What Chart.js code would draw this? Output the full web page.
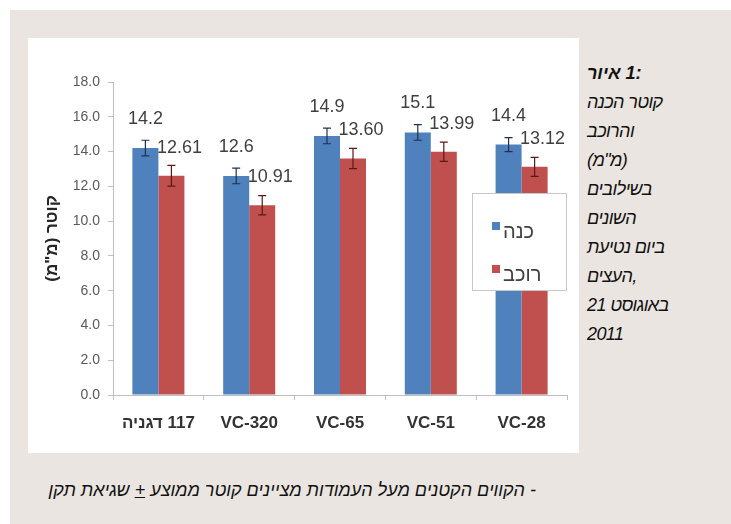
<!DOCTYPE html>
<html>
<head>
<meta charset="utf-8">
<script src="https://cdn.jsdelivr.net/npm/chart.js@4/dist/chart.umd.min.js"></script>
<style>
  html, body { margin: 0; padding: 0; background: #ffffff; }
  body { width: 731px; height: 524px; position: relative; overflow: hidden; font-family: "Liberation Sans", Arial, sans-serif; }
  #beige { position: absolute; left: 10px; top: 10px; width: 721px; height: 514px; background: #eae5e0; }
  #panel { position: absolute; left: 28px; top: 38px; width: 551px; height: 415px; background: #ffffff; }
  #side { position: absolute; left: 587px; top: 59px; width: 140px; font-style: italic; font-size: 18px; line-height: 29px; color: #111; direction: ltr; text-align: left; letter-spacing: -0.6px; }
  #side div { white-space: nowrap; }
  #side .b { font-weight: bold; letter-spacing: 0; }
  #note { position: absolute; left: 20px; width: 516px; top: 477px; font-style: italic; font-size: 18px; line-height: 26px; color: #111; direction: rtl; text-align: right; white-space: nowrap; }
</style>
</head>
<body>
<div id="beige"></div>
<div id="panel"><canvas id="c" width="551" height="415"></canvas></div>
<div id="side">
  <div class="b">איור&#x200E; 1:</div>
  <div>קוטר הכנה</div>
  <div>והרוכב</div>
  <div>(מ"מ)</div>
  <div>בשילובים</div>
  <div>השונים</div>
  <div>ביום נטיעת</div>
  <div>העצים,</div>
  <div>21 באוגוסט</div>
  <div>2011</div>
</div>
<div id="note">- הקווים הקטנים מעל העמודות מציינים קוטר ממוצע <u>+</u> שגיאת תקן</div>
<script>
// ---- data ----
const categories = ['\u200F117 דגניה\u200F', 'VC-320', 'VC-65', 'VC-51', 'VC-28'];
const seriesNames = ['כנה', 'רוכב'];
const stockValues = [14.2, 12.6, 14.9, 15.1, 14.4];
const scionValues = [12.61, 10.91, 13.60, 13.99, 13.12];
const stockErrors = [0.45, 0.45, 0.45, 0.45, 0.4];
const scionErrors = [0.6, 0.55, 0.58, 0.55, 0.55];
const labelDecimals = [1, 2];
const yTicks = [0, 2, 4, 6, 8, 10, 12, 14, 16, 18];

// ---- styles ----
const colors = ['#4f81bd', '#c0504d'];
const errColors = ['#1f3050', '#5a1816'];
const labelOffsets = [{dx: 0, dy: -29}, {dx: 8, dy: -28}];
const FONT = '"Liberation Sans", Arial, sans-serif';

const overlayPlugin = {
  id: 'overlay',
  afterDatasetsDraw(chart) {
    const ctx = chart.ctx;
    const yScale = chart.scales.y;
    const errs = [stockErrors, scionErrors];
    const vals = [stockValues, scionValues];
    ctx.save();
    chart.data.datasets.forEach((ds, i) => {
      const meta = chart.getDatasetMeta(i);
      meta.data.forEach((el, j) => {
        const v = vals[i][j], e = errs[i][j];
        const yT = yScale.getPixelForValue(v + e);
        const yB = yScale.getPixelForValue(v - e);
        ctx.strokeStyle = errColors[i];
        ctx.lineWidth = 1.2;
        ctx.beginPath();
        ctx.moveTo(el.x, yT); ctx.lineTo(el.x, yB);
        ctx.moveTo(el.x - 4, yT); ctx.lineTo(el.x + 4, yT);
        ctx.moveTo(el.x - 4, yB); ctx.lineTo(el.x + 4, yB);
        ctx.stroke();
      });
    });
    chart.data.datasets.forEach((ds, i) => {
      const meta = chart.getDatasetMeta(i);
      meta.data.forEach((el, j) => {
        ctx.fillStyle = '#3f3f3f';
        ctx.font = '18px ' + FONT;
        ctx.textAlign = 'center';
        ctx.textBaseline = 'middle';
        ctx.fillText(vals[i][j].toFixed(labelDecimals[i]), el.x + labelOffsets[i].dx, el.y + labelOffsets[i].dy);
      });
    });
    ctx.restore();
  },
  afterDraw(chart) {
    const ctx = chart.ctx;
    const a = chart.chartArea;
    const bx = a.right - 95, by = a.top + 111, bw = 94, bh = 97;
    ctx.save();
    ctx.fillStyle = '#ffffff';
    ctx.fillRect(bx, by, bw, bh);
    ctx.strokeStyle = '#c8c8c8';
    ctx.lineWidth = 1;
    ctx.strokeRect(bx + 0.5, by + 0.5, bw, bh);
    chart.data.datasets.forEach((ds, i) => {
      const sy = by + 29 + i * 43;
      ctx.fillStyle = colors[i];
      ctx.fillRect(bx + 20, sy, 8, 8);
      ctx.fillStyle = '#404040';
      ctx.font = '20px ' + FONT;
      ctx.textAlign = 'left';
      ctx.textBaseline = 'middle';
      ctx.fillText(ds.label, bx + 31, sy + 10);
    });
    ctx.restore();
  }
};

new Chart(document.getElementById('c'), {
  type: 'bar',
  data: {
    labels: categories,
    datasets: [
      { label: seriesNames[0], data: stockValues, backgroundColor: colors[0], barPercentage: 1, categoryPercentage: 0.573 },
      { label: seriesNames[1], data: scionValues, backgroundColor: colors[1], barPercentage: 1, categoryPercentage: 0.573 }
    ]
  },
  options: {
    responsive: false,
    animation: false,
    devicePixelRatio: 1,
    layout: { padding: { top: 44, right: 12, left: 0, bottom: 0 } },
    plugins: { legend: { display: false }, tooltip: { enabled: false } },
    scales: {
      x: {
        grid: { drawOnChartArea: false, tickLength: 5, color: '#bfbfbf', offset: true },
        border: { color: '#bfbfbf' },
        ticks: { font: { family: FONT, size: 17, weight: 'bold' }, color: '#333333', padding: 13, maxRotation: 0 },
        afterFit(s) { s.height = 58; }
      },
      y: {
        min: 0, max: 18,
        afterBuildTicks(s) { s.ticks = yTicks.map(v => ({ value: v })); },
        grid: { drawOnChartArea: false, tickLength: 5, color: '#bfbfbf' },
        border: { color: '#bfbfbf' },
        ticks: { font: { family: FONT, size: 14 }, color: '#595959', padding: 8, callback: v => Number(v).toFixed(1) },
        title: { display: true, text: '\u200Fקוטר (מ"מ)\u200F', font: { family: FONT, size: 17, weight: 'bold' }, color: '#262626', padding: { top: 14, bottom: 0 } },
        afterFit(s) { s.width = 85; }
      }
    }
  },
  plugins: [overlayPlugin]
});
</script>
</body>
</html>
